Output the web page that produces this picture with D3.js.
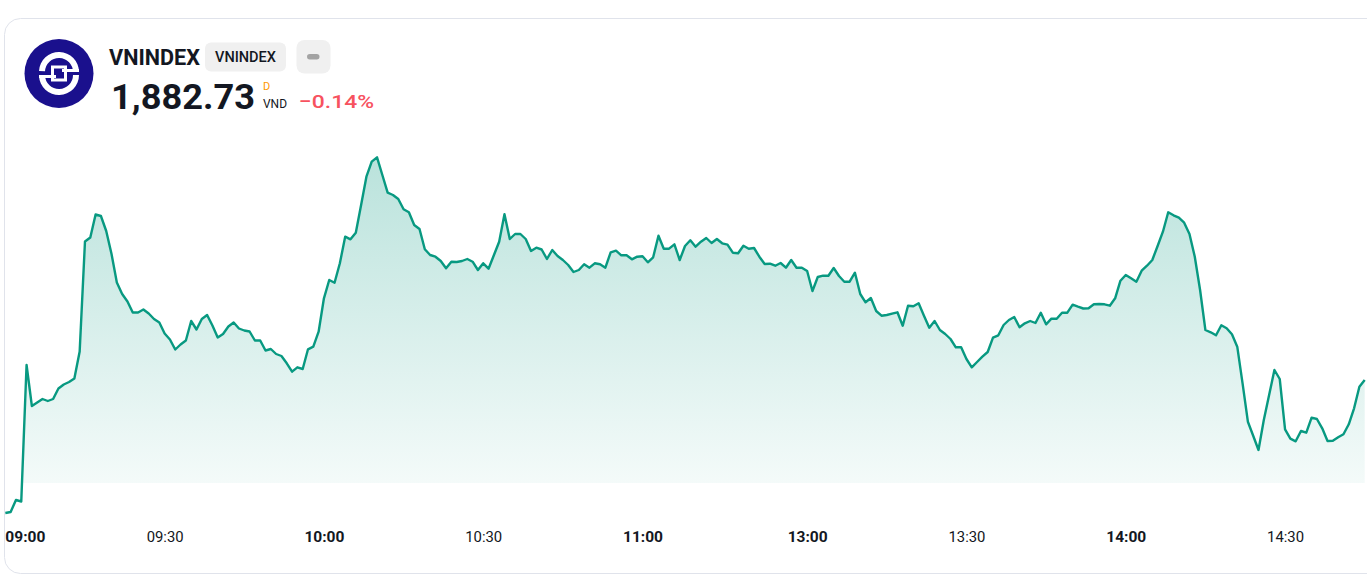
<!DOCTYPE html>
<html><head><meta charset="utf-8">
<script src="https://cdn.jsdelivr.net/npm/d3@7"></script>
<style>html,body{margin:0;padding:0;background:#fff;overflow:hidden}</style>
</head><body><svg id="c" width="1367" height="582"></svg>
<script>
const symbol = "VNINDEX";
const exchangeBadge = "VNINDEX";
const lastPrice = 1882.73;
const changePct = -0.14;
const currency = "VND";
const flag = "D";
const sessions = [["09:00", "11:30"], ["13:00", "14:45"]];
const tickLabels = ["09:00", "09:30", "10:00", "10:30", "11:00", "13:00", "13:30", "14:00", "14:30"];
const boldTicks = ["09:00", "10:00", "11:00", "13:00", "14:00"];

const morningValues = [
1869.43,1869.53,1870.73,1870.58,1884.23,1880.13,1880.48,1880.83,1880.63,1880.83,
1881.88,1882.28,1882.53,1882.88,1885.58,1896.58,1896.98,1899.28,1899.13,1897.63,
1895.33,1892.48,1891.33,1890.58,1889.48,1889.48,1889.78,1889.38,1888.83,1888.48,
1887.38,1886.78,1885.78,1886.28,1886.68,1888.63,1887.78,1888.83,1889.23,1888.18,
1886.98,1887.33,1888.08,1888.48,1887.88,1887.68,1887.58,1886.68,1886.68,1885.68,
1885.83,1885.33,1885.13,1884.40,1883.56,1884.00,1883.83,1885.80,1886.06,1887.56,
1890.90,1892.73,1892.46,1894.40,1897.06,1896.80,1897.46,1900.23,1903.06,1904.56,
1905.00,1903.23,1901.46,1901.23,1900.83,1899.80,1899.50,1898.23,1897.83,1895.80,
1895.23,1895.06,1894.63,1893.90,1894.56,1894.53,1894.63,1894.83,1894.56,1893.73,
1894.40,1893.86,1895.20,1896.56,1899.30,1896.83,1897.33,1897.33,1896.83,1895.63,
1895.96,1895.78,1894.83,1895.73,1895.13,1894.73,1894.23,1893.53,1893.73,1894.30,
1893.96,1894.40,1894.30,1893.96,1895.50,1895.66,1895.20,1895.20,1894.80,1895.06,
1895.10,1894.50,1895.00,1897.16,1895.86,1895.86,1896.30,1894.73,1896.13,1896.70,
1896.06,1896.56,1896.93,1896.43,1896.83,1896.40,1896.26,1895.46,1895.40,1896.16,
1895.86,1895.93,1895.06,1894.33,1894.36,1894.16,1894.43,1893.96,1894.73,1893.96,
1893.96
];
const afternoonValues = [
1893.63,1891.63,1893.03,1893.16,1893.16,1893.93,1893.13,1892.56,1892.56,1893.46,
1891.33,1890.50,1890.93,1889.63,1889.16,1889.23,1889.36,1889.50,1888.16,1890.16,
1890.10,1890.40,1889.16,1887.96,1888.63,1887.73,1887.33,1886.83,1886.00,1886.00,
1884.83,1884.00,1884.53,1885.06,1885.53,1886.96,1887.20,1888.23,1888.73,1889.03,
1888.00,1888.40,1888.63,1888.43,1889.46,1888.30,1888.86,1888.86,1889.46,1889.46,
1890.26,1890.06,1889.88,1889.90,1890.30,1890.33,1890.30,1890.16,1890.90,1892.66,
1893.23,1892.90,1892.56,1893.66,1894.16,1894.73,1896.13,1897.56,1899.50,1899.20,
1898.96,1898.46,1897.33,1895.06,1891.73,1887.73,1887.50,1887.20,1888.20,1887.90,
1887.30,1886.06,1882.40,1878.56,1877.16,1875.73,1878.73,1881.23,1883.73,1882.83,
1877.80,1876.86,1876.60,1877.63,1877.46,1878.96,1878.83,1877.90,1876.63,1876.66,
1877.00,1877.30,1878.30,1879.90,1882.06,1882.73
];

const W = 1367, H = 582;
const lineColor = "#089981";
const fillBottom = 483;

function toMin(s) { const p = s.split(":").map(Number); return p[0] * 60 + p[1]; }
function toLabel(m) { return String(Math.floor(m / 60)).padStart(2, "0") + ":" + String(m % 60).padStart(2, "0"); }
const times = sessions.flatMap(([a, b]) => d3.range(toMin(a), toMin(b) + 1).map(toLabel));
const values = morningValues.concat(afternoonValues);
const data = times.map((t, i) => ({ t, v: values[i] }));

const svg = d3.select("#c");
const defs = svg.append("defs");

// card
svg.append("rect").attr("x", 4.5).attr("y", 18.5).attr("width", 1420).attr("height", 555)
  .attr("rx", 16).attr("fill", "#fff").attr("stroke", "#e0e3eb").attr("stroke-width", 1);

const x = d3.scalePoint().domain(times).range([5.33, 1364.7]);
const y = d3.scaleLinear().domain([1870, 1905]).range([507.3, 157.3]);

const grad = defs.append("linearGradient").attr("id", "fillGrad")
  .attr("gradientUnits", "userSpaceOnUse")
  .attr("x1", 0).attr("x2", 0).attr("y1", y(d3.max(values))).attr("y2", fillBottom);
grad.append("stop").attr("offset", 0).attr("stop-color", lineColor).attr("stop-opacity", 0.28);
grad.append("stop").attr("offset", 1).attr("stop-color", lineColor).attr("stop-opacity", 0.045);

defs.append("clipPath").attr("id", "areaClip").append("rect")
  .attr("x", 0).attr("y", 0).attr("width", W).attr("height", fillBottom);

const area = d3.area().x(d => x(d.t)).y0(fillBottom).y1(d => y(d.v));
const line = d3.line().x(d => x(d.t)).y(d => y(d.v));

svg.append("path").datum(data).attr("d", area).attr("fill", "url(#fillGrad)")
  .attr("clip-path", "url(#areaClip)");
svg.append("path").datum(data).attr("d", line).attr("fill", "none")
  .attr("stroke", lineColor).attr("stroke-width", 2.4).attr("stroke-linejoin", "round");

// x axis
const ax = svg.append("g").attr("transform", "translate(0,532)")
  .call(d3.axisBottom(x).tickValues(tickLabels).tickSize(0).tickPadding(0));
ax.select(".domain").remove();
ax.selectAll("text")
  .attr("font-family", "Roboto, sans-serif")
  .attr("font-size", 14)
  .attr("fill", "#131722")
  .attr("font-weight", d => boldTicks.includes(d) ? 700 : 400)
  .attr("textLength", d => boldTicks.includes(d) ? 40 : 37)
  .attr("lengthAdjust", "spacingAndGlyphs")
  .attr("text-anchor", (d, i) => i === 0 ? "start" : "middle")
  .attr("x", (d, i) => i === 0 ? -0.5 : 0);

// header
const hdr = svg.append("g").attr("font-family", "Roboto, sans-serif");
// logo
const lg = hdr.append("g").attr("transform", "translate(59,73.5)");
lg.append("circle").attr("r", 34.5).attr("fill", "#1a108d");
lg.append("path").attr("d", d3.arc()({ innerRadius: 14, outerRadius: 20, startAngle: -Math.PI / 2 + 0.05, endAngle: Math.PI / 2 }))
  .attr("fill", "#fff").attr("transform", "translate(0,-1.5)");
lg.append("path").attr("d", d3.arc()({ innerRadius: 14, outerRadius: 20, startAngle: Math.PI / 2, endAngle: Math.PI * 1.5 - 0.05 }))
  .attr("fill", "#fff").attr("transform", "translate(0,1.5)");
lg.append("rect").attr("x", 3).attr("y", -4.5).attr("width", 17).attr("height", 3).attr("fill", "#fff");
lg.append("rect").attr("x", -20).attr("y", 1.5).attr("width", 17).attr("height", 3).attr("fill", "#fff");
lg.append("rect").attr("x", -6.5).attr("y", -6.5).attr("width", 13).attr("height", 13)
  .attr("fill", "none").attr("stroke", "#fff").attr("stroke-width", 3);

hdr.append("text").attr("x", 109).attr("y", 65).attr("font-size", 22).attr("font-weight", 700)
  .attr("fill", "#131722").attr("textLength", 91).attr("lengthAdjust", "spacingAndGlyphs").text(symbol);

hdr.append("rect").attr("x", 205).attr("y", 42.5).attr("width", 81).attr("height", 29).attr("rx", 6).attr("fill", "#f0f0f0");
hdr.append("text").attr("x", 215).attr("y", 62).attr("font-size", 14).attr("font-weight", 500)
  .attr("fill", "#131722").attr("textLength", 61).attr("lengthAdjust", "spacingAndGlyphs").text(exchangeBadge);

hdr.append("rect").attr("x", 296.5).attr("y", 40).attr("width", 34).attr("height", 33.5).attr("rx", 8).attr("fill", "#f0f0f0");
hdr.append("rect").attr("x", 307).attr("y", 54).attr("width", 12.5).attr("height", 5.5).attr("rx", 2.75).attr("fill", "#a3a3a3");

hdr.append("text").attr("x", 111).attr("y", 108.5).attr("font-size", 35).attr("font-weight", 700)
  .attr("fill", "#131722").attr("textLength", 144).attr("lengthAdjust", "spacingAndGlyphs")
  .text(d3.format(",.2f")(lastPrice));
hdr.append("text").attr("x", 263).attr("y", 90).attr("font-size", 11).attr("fill", "#ff9800").text(flag);
hdr.append("text").attr("x", 263).attr("y", 108).attr("font-size", 12.5).attr("fill", "#131722")
  .attr("textLength", 24).attr("lengthAdjust", "spacingAndGlyphs").text(currency);
hdr.append("text").attr("x", 299).attr("y", 108).attr("font-size", 19).attr("font-weight", 500)
  .attr("fill", "#f7525f").attr("textLength", 75).attr("lengthAdjust", "spacingAndGlyphs")
  .text(d3.format(".2f")(changePct) + "%");
</script></body></html>
